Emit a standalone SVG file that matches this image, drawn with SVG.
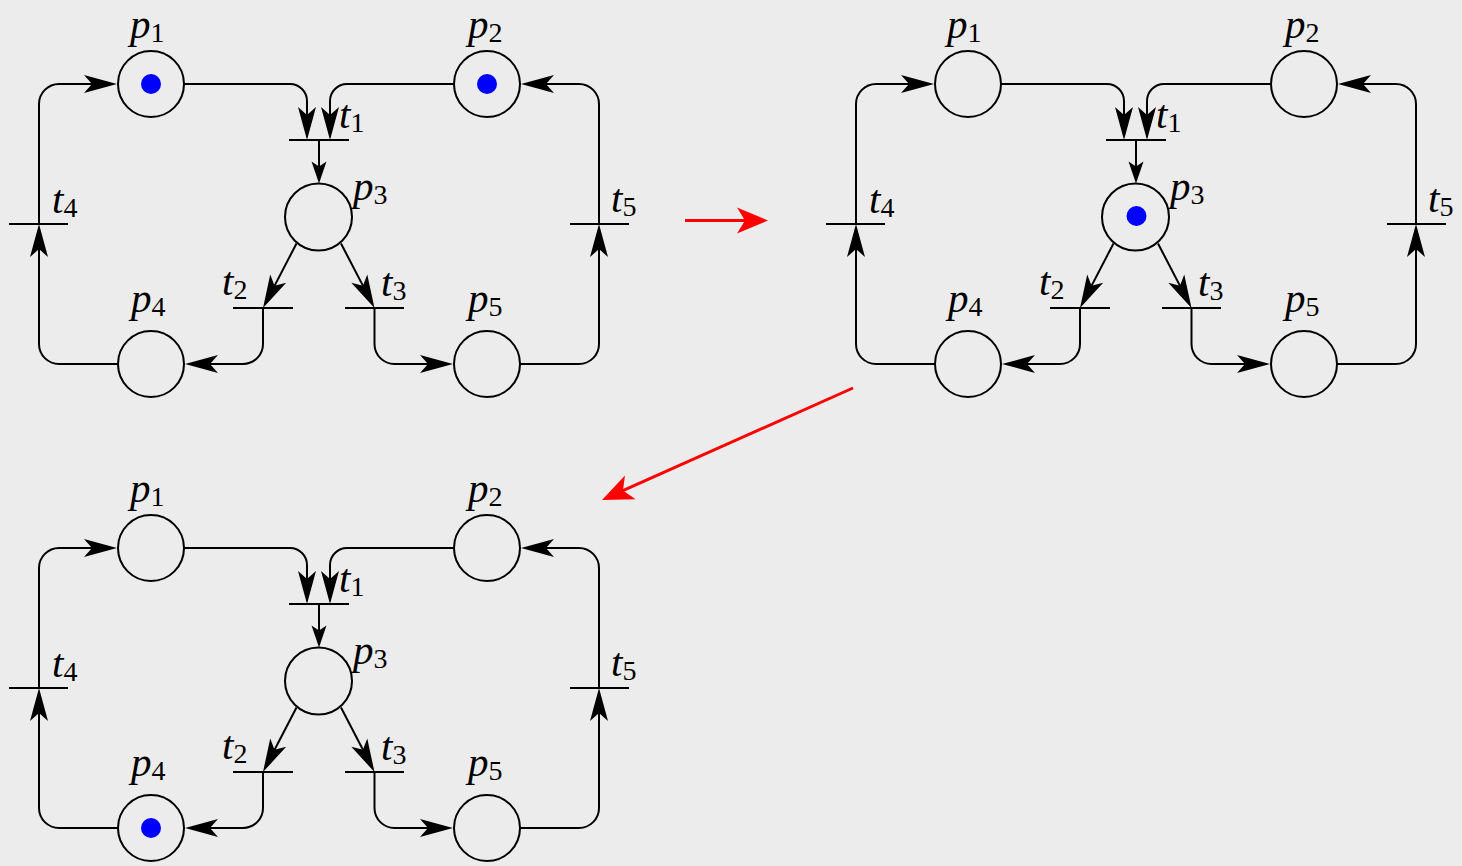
<svg xmlns="http://www.w3.org/2000/svg" width="1462" height="866" viewBox="0 0 1462 866">
<style>
.pl{fill:none;stroke:#000;stroke-width:2}
.bar{stroke:#000;stroke-width:2}
.tok{fill:#0000ff}
.arc{fill:none;stroke:#000;stroke-width:2}
.red{fill:none;stroke:#ff0000;stroke-width:3}
text{font-family:"Liberation Serif","Times New Roman",serif;font-style:italic;font-size:41px;fill:#000}
tspan{font-family:"Liberation Serif","Times New Roman",serif;font-style:normal;font-size:28px}
</style>
<defs>
<marker id="big" viewBox="-35 -10 37 20" refX="-8" refY="0" markerWidth="37" markerHeight="20" markerUnits="userSpaceOnUse" orient="auto">
<path d="M0,0 L-33,-9 L-25,0 L-33,9 Z" fill="#000"/>
</marker>
<marker id="small" viewBox="-24 -9 26 18" refX="-6" refY="0" markerWidth="26" markerHeight="18" markerUnits="userSpaceOnUse" orient="auto">
<path d="M0,0 L-22,-7.5 L-17,0 L-22,7.5 Z" fill="#000"/>
</marker>
<marker id="redh" viewBox="-33 -15 35 30" refX="-10" refY="0" markerWidth="35" markerHeight="30" markerUnits="userSpaceOnUse" orient="auto">
<path d="M0,0 L-31,-13 L-23,0 L-31,13 Z" fill="#ff0000"/>
</marker>
</defs>
<rect width="1462" height="866" fill="#ececec"/>

<!-- Net 1 -->
<g id="net1">
<g id="net1-connectors">
<path class="arc" marker-end="url(#big)" d="M184,84 H290 A17,17 0 0 1 307,101 V132"/>
<path class="arc" marker-end="url(#big)" d="M454,84 H347 A17,17 0 0 0 330,101 V132"/>
<path class="arc" marker-end="url(#small)" d="M319,140 V177.5"/>
<path class="arc" marker-end="url(#big)" d="M296.5,243.5 L266.7,300.9"/>
<path class="arc" marker-end="url(#big)" d="M341,243.5 L370.8,300.9"/>
<path class="arc" marker-end="url(#big)" d="M263,308 V344 A20,20 0 0 1 243,364 H193"/>
<path class="arc" marker-end="url(#big)" d="M374.5,308 V344 A20,20 0 0 0 394.5,364 H445"/>
<path class="arc" marker-end="url(#big)" d="M118,364 H59 A20,20 0 0 1 39,344 V232"/>
<path class="arc" marker-end="url(#big)" d="M39,224 V104 A20,20 0 0 1 59,84 H109"/>
<path class="arc" marker-end="url(#big)" d="M520,364 H579 A20,20 0 0 0 599,344 V232"/>
<path class="arc" marker-end="url(#big)" d="M599,224 V104 A20,20 0 0 0 579,84 H529"/>
</g>
<g id="net1-p1"><circle class="pl" cx="151" cy="84" r="33"/><circle class="tok" cx="151" cy="84" r="10"/><text x="130" y="38">p<tspan dy="4">1</tspan></text></g>
<g id="net1-p2"><circle class="pl" cx="487" cy="84" r="33"/><circle class="tok" cx="487" cy="84" r="10"/><text x="468" y="38">p<tspan dy="4">2</tspan></text></g>
<g id="net1-p3"><circle class="pl" cx="318.5" cy="217" r="33.5"/><text x="353" y="200">p<tspan dy="4">3</tspan></text></g>
<g id="net1-p4"><circle class="pl" cx="151" cy="364" r="33"/><text x="131" y="312">p<tspan dy="4">4</tspan></text></g>
<g id="net1-p5"><circle class="pl" cx="487" cy="364" r="33"/><text x="468" y="312">p<tspan dy="4">5</tspan></text></g>
<g id="net1-t1"><line class="bar" x1="289" y1="140" x2="349" y2="140"/><text x="339" y="128">t<tspan dy="4">1</tspan></text></g>
<g id="net1-t2"><line class="bar" x1="233" y1="308" x2="293" y2="308"/><text x="222" y="295">t<tspan dy="4">2</tspan></text></g>
<g id="net1-t3"><line class="bar" x1="345" y1="308" x2="404" y2="308"/><text x="381" y="296">t<tspan dy="4">3</tspan></text></g>
<g id="net1-t4"><line class="bar" x1="9" y1="224" x2="68" y2="224"/><text x="52" y="213">t<tspan dy="4">4</tspan></text></g>
<g id="net1-t5"><line class="bar" x1="570" y1="224" x2="629" y2="224"/><text x="611" y="212">t<tspan dy="4">5</tspan></text></g>
</g>

<!-- Net 2 -->
<g id="net2" transform="translate(817,0)">
<g id="net2-connectors">
<path class="arc" marker-end="url(#big)" d="M184,84 H290 A17,17 0 0 1 307,101 V132"/>
<path class="arc" marker-end="url(#big)" d="M454,84 H347 A17,17 0 0 0 330,101 V132"/>
<path class="arc" marker-end="url(#small)" d="M319,140 V177.5"/>
<path class="arc" marker-end="url(#big)" d="M296.5,243.5 L266.7,300.9"/>
<path class="arc" marker-end="url(#big)" d="M341,243.5 L370.8,300.9"/>
<path class="arc" marker-end="url(#big)" d="M263,308 V344 A20,20 0 0 1 243,364 H193"/>
<path class="arc" marker-end="url(#big)" d="M374.5,308 V344 A20,20 0 0 0 394.5,364 H445"/>
<path class="arc" marker-end="url(#big)" d="M118,364 H59 A20,20 0 0 1 39,344 V232"/>
<path class="arc" marker-end="url(#big)" d="M39,224 V104 A20,20 0 0 1 59,84 H109"/>
<path class="arc" marker-end="url(#big)" d="M520,364 H579 A20,20 0 0 0 599,344 V232"/>
<path class="arc" marker-end="url(#big)" d="M599,224 V104 A20,20 0 0 0 579,84 H529"/>
</g>
<g id="net2-p1"><circle class="pl" cx="151" cy="84" r="33"/><text x="130" y="38">p<tspan dy="4">1</tspan></text></g>
<g id="net2-p2"><circle class="pl" cx="487" cy="84" r="33"/><text x="468" y="38">p<tspan dy="4">2</tspan></text></g>
<g id="net2-p3"><circle class="pl" cx="318.5" cy="217" r="33.5"/><circle class="tok" cx="319.5" cy="216" r="10"/><text x="353" y="200">p<tspan dy="4">3</tspan></text></g>
<g id="net2-p4"><circle class="pl" cx="151" cy="364" r="33"/><text x="131" y="312">p<tspan dy="4">4</tspan></text></g>
<g id="net2-p5"><circle class="pl" cx="487" cy="364" r="33"/><text x="468" y="312">p<tspan dy="4">5</tspan></text></g>
<g id="net2-t1"><line class="bar" x1="289" y1="140" x2="349" y2="140"/><text x="339" y="128">t<tspan dy="4">1</tspan></text></g>
<g id="net2-t2"><line class="bar" x1="233" y1="308" x2="293" y2="308"/><text x="222" y="295">t<tspan dy="4">2</tspan></text></g>
<g id="net2-t3"><line class="bar" x1="345" y1="308" x2="404" y2="308"/><text x="381" y="296">t<tspan dy="4">3</tspan></text></g>
<g id="net2-t4"><line class="bar" x1="9" y1="224" x2="68" y2="224"/><text x="52" y="213">t<tspan dy="4">4</tspan></text></g>
<g id="net2-t5"><line class="bar" x1="570" y1="224" x2="629" y2="224"/><text x="611" y="212">t<tspan dy="4">5</tspan></text></g>
</g>

<!-- Net 3 -->
<g id="net3" transform="translate(0,464)">
<g id="net3-connectors">
<path class="arc" marker-end="url(#big)" d="M184,84 H290 A17,17 0 0 1 307,101 V132"/>
<path class="arc" marker-end="url(#big)" d="M454,84 H347 A17,17 0 0 0 330,101 V132"/>
<path class="arc" marker-end="url(#small)" d="M319,140 V177.5"/>
<path class="arc" marker-end="url(#big)" d="M296.5,243.5 L266.7,300.9"/>
<path class="arc" marker-end="url(#big)" d="M341,243.5 L370.8,300.9"/>
<path class="arc" marker-end="url(#big)" d="M263,308 V344 A20,20 0 0 1 243,364 H193"/>
<path class="arc" marker-end="url(#big)" d="M374.5,308 V344 A20,20 0 0 0 394.5,364 H445"/>
<path class="arc" marker-end="url(#big)" d="M118,364 H59 A20,20 0 0 1 39,344 V232"/>
<path class="arc" marker-end="url(#big)" d="M39,224 V104 A20,20 0 0 1 59,84 H109"/>
<path class="arc" marker-end="url(#big)" d="M520,364 H579 A20,20 0 0 0 599,344 V232"/>
<path class="arc" marker-end="url(#big)" d="M599,224 V104 A20,20 0 0 0 579,84 H529"/>
</g>
<g id="net3-p1"><circle class="pl" cx="151" cy="84" r="33"/><text x="130" y="38">p<tspan dy="4">1</tspan></text></g>
<g id="net3-p2"><circle class="pl" cx="487" cy="84" r="33"/><text x="468" y="38">p<tspan dy="4">2</tspan></text></g>
<g id="net3-p3"><circle class="pl" cx="318.5" cy="217" r="33.5"/><text x="353" y="200">p<tspan dy="4">3</tspan></text></g>
<g id="net3-p4"><circle class="pl" cx="151" cy="364" r="33"/><circle class="tok" cx="151" cy="364" r="10"/><text x="131" y="312">p<tspan dy="4">4</tspan></text></g>
<g id="net3-p5"><circle class="pl" cx="487" cy="364" r="33"/><text x="468" y="312">p<tspan dy="4">5</tspan></text></g>
<g id="net3-t1"><line class="bar" x1="289" y1="140" x2="349" y2="140"/><text x="339" y="128">t<tspan dy="4">1</tspan></text></g>
<g id="net3-t2"><line class="bar" x1="233" y1="308" x2="293" y2="308"/><text x="222" y="295">t<tspan dy="4">2</tspan></text></g>
<g id="net3-t3"><line class="bar" x1="345" y1="308" x2="404" y2="308"/><text x="381" y="296">t<tspan dy="4">3</tspan></text></g>
<g id="net3-t4"><line class="bar" x1="9" y1="224" x2="68" y2="224"/><text x="52" y="213">t<tspan dy="4">4</tspan></text></g>
<g id="net3-t5"><line class="bar" x1="570" y1="224" x2="629" y2="224"/><text x="611" y="212">t<tspan dy="4">5</tspan></text></g>
</g>

<!-- Step arrows -->
<g id="step-connectors">
<path class="red" marker-end="url(#redh)" d="M685,220.5 H758"/>
<path class="red" marker-end="url(#redh)" d="M853,388 L611.1,495.9"/>
</g>
</svg>
